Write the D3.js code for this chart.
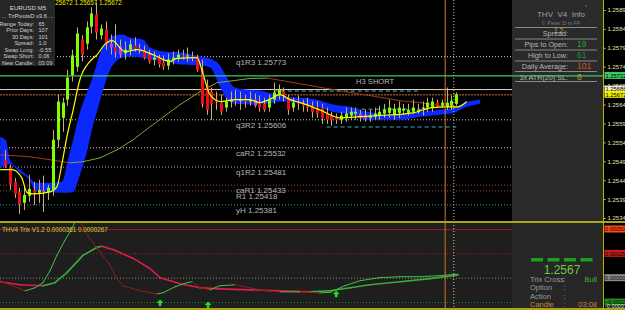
<!DOCTYPE html>
<html>
<head>
<meta charset="utf-8">
<script src="https://cdn.jsdelivr.net/npm/d3@7"></script>
<style>
html, body { margin: 0; padding: 0; background: #000; overflow: hidden; }
svg { display: block; font-family: "Liberation Sans", Arial, sans-serif; }
</style>
</head>
<body>
<div id="chart"></div>
<script>
// ---- candles (EURUSD M5), one entry per bar ----
const open = [1.25499,1.25478,1.25441,1.25414,1.25385,1.25404,1.25419,1.25412,1.25419,1.25414,
  1.25419,1.25552,1.2561,1.25658,1.25722,1.25745,1.25817,1.25806,1.25851,1.25883,
  1.25828,1.25843,1.25806,1.25796,1.25798,1.2578,1.2579,1.25801,1.25793,1.25788,
  1.25777,1.25764,1.25769,1.25756,1.25748,1.25764,1.25769,1.25775,1.25772,1.25772,
  1.25769,1.25737,1.25695,1.25679,1.25658,1.2565,1.25637,1.25653,1.25658,1.25655,
  1.25658,1.25653,1.25658,1.25647,1.25647,1.25637,1.25658,1.25671,1.25679,1.25663,
  1.25637,1.2565,1.25647,1.25642,1.25642,1.25637,1.25637,1.25621,1.25616,1.2561,
  1.25605,1.2561,1.25616,1.25621,1.25621,1.25616,1.2561,1.25613,1.25616,1.25621,
  1.25623,1.25618,1.25623,1.25629,1.25623,1.25626,1.25626,1.25637,1.25637,1.25637,
  1.2565,1.25642,1.25639,1.25642,1.25647];
const high = [1.25525,1.25486,1.25451,1.25425,1.2543,1.25459,1.25441,1.25446,1.25457,1.25433,
  1.25578,1.25671,1.25663,1.25737,1.2579,1.25849,1.25828,1.25865,1.25902,1.25915,
  1.25857,1.25865,1.2583,1.25857,1.25817,1.25812,1.25817,1.25823,1.25806,1.25801,
  1.2579,1.25785,1.25777,1.25775,1.2578,1.25785,1.2579,1.2579,1.25796,1.25785,
  1.25777,1.25764,1.25711,1.2569,1.25679,1.25671,1.25663,1.25679,1.25684,1.25679,
  1.25671,1.25679,1.25674,1.25669,1.25663,1.25671,1.25703,1.25698,1.2569,1.25671,
  1.25663,1.25669,1.25658,1.25663,1.25653,1.25653,1.25647,1.25637,1.25626,1.25621,
  1.25626,1.25637,1.25637,1.25637,1.25631,1.25631,1.25631,1.25637,1.25642,1.25647,
  1.25658,1.25647,1.25653,1.25647,1.25647,1.25658,1.25647,1.25653,1.25663,1.25663,
  1.25658,1.25658,1.2569,1.25669,1.25677];
const low = [1.25478,1.25419,1.25398,1.25356,1.25366,1.25388,1.2538,1.25385,1.25361,1.25393,
  1.25404,1.25531,1.25573,1.25642,1.25706,1.25732,1.25759,1.2579,1.25833,1.25817,
  1.25817,1.2579,1.25777,1.25769,1.25769,1.25764,1.25775,1.25785,1.2578,1.25764,
  1.25753,1.25748,1.25743,1.25737,1.25737,1.25751,1.25759,1.25764,1.25759,1.25759,
  1.25732,1.25637,1.25618,1.25605,1.25631,1.25618,1.25626,1.25637,1.25642,1.25631,
  1.25637,1.25642,1.25637,1.25626,1.25626,1.25626,1.25647,1.25658,1.25653,1.25618,
  1.25626,1.25631,1.25626,1.25626,1.2561,1.2561,1.25594,1.25594,1.25589,1.25594,
  1.25594,1.256,1.25605,1.25605,1.256,1.256,1.256,1.25605,1.25605,1.2561,
  1.2561,1.25605,1.2561,1.25618,1.25616,1.25621,1.25621,1.25616,1.25626,1.25626,
  1.25637,1.25637,1.25631,1.25631,1.25642];
const close = [1.25483,1.25435,1.25409,1.25382,1.25406,1.25422,1.25412,1.25419,1.25414,1.25425,
  1.25552,1.25653,1.2565,1.25716,1.25775,1.25833,1.25777,1.25849,1.25886,1.25836,
  1.25846,1.25804,1.25796,1.25785,1.25777,1.2579,1.25804,1.25793,1.2579,1.25769,
  1.25759,1.25769,1.25751,1.25745,1.25764,1.25769,1.25777,1.25772,1.25775,1.25769,
  1.25737,1.25647,1.25631,1.25647,1.25653,1.25626,1.25653,1.25658,1.25655,1.25658,
  1.25653,1.25658,1.25642,1.25637,1.25631,1.25658,1.25677,1.25684,1.25669,1.25631,
  1.2565,1.25647,1.25642,1.25637,1.25626,1.25621,1.2561,1.25605,1.25605,1.25605,
  1.25616,1.25621,1.25626,1.25626,1.2561,1.25608,1.25616,1.25621,1.25626,1.25631,
  1.25637,1.25634,1.25637,1.25634,1.25631,1.25637,1.25631,1.25636,1.2565,1.25653,
  1.25639,1.2565,1.2565,1.25655,1.25672];
// bars painted magenta by the template
const magentaBars = [8, 22, 24, 52, 74, 75];

// ---- overlays: [bar index, price] ----
const fastMA = [[-1,1.25473],[1.5,1.25473],[3.5,1.25451],[4.6,1.25412],[5.8,1.25409],[9.4,1.25414],
  [10.8,1.25427],[11.9,1.25491],[12.9,1.2556],[14.2,1.25631],[15.6,1.25711],[17.7,1.25759],
  [19.2,1.25777],[20.8,1.25804],[22.3,1.25814],[25,1.25785],[27.5,1.2579],[30.8,1.25777],
  [34.4,1.25759],[35.8,1.25767],[40,1.25769],[41.3,1.25724],[42.7,1.25671],[44.8,1.25653],
  [48,1.25658],[51,1.25658],[53,1.2565],[55,1.25658],[57.3,1.25671],[59.4,1.25658],
  [61.5,1.2565],[65.6,1.25631],[69.8,1.2561],[74,1.25613],[78,1.25616],[85,1.25623],
  [89,1.25637],[92,1.25639],[94.4,1.25639],[96.2,1.25653]];
const slowMA = [[-1,1.25512],[5.2,1.25507],[9.4,1.25499],[13.5,1.25491],[16.3,1.25494],
  [19.8,1.25504],[23.3,1.25525],[26.7,1.25552],[30.2,1.25586],[36.5,1.25645],[40.6,1.25679],
  [44.2,1.25703],[47.5,1.25708],[51,1.25714],[54.6,1.25715],[57.9,1.25708],[65,1.25692],
  [71.9,1.25677],[78.75,1.25663],[82.3,1.25655],[86.5,1.2565],[90.6,1.25642],[94.4,1.25637]];
// ribbon: [bar index, upper, lower]
const band = [[-1,1.2556,1.2548],[0.2,1.2555,1.25483],[1.04,1.25499,1.25488],[3.1,1.25473,1.25465],
  [5.2,1.25451,1.25443],[6.25,1.25438,1.25419],[9.4,1.25438,1.25414],[11.9,1.25441,1.25412],
  [13.1,1.25499,1.25412],[14.2,1.25552,1.25414],[15.6,1.25624,1.25459],[16.9,1.25671,1.25512],
  [18.1,1.25711,1.25578],[19.4,1.25764,1.25637],[20.6,1.25804,1.2569],[21.9,1.25822,1.25737],
  [23.1,1.25828,1.25759],[24.4,1.2583,1.25769],[26,1.25822,1.25772],[28.75,1.25817,1.25769],
  [30.2,1.25796,1.25764],[33.3,1.25785,1.25759],[36.5,1.25783,1.25751],[40.6,1.25772,1.25748],
  [42.7,1.25767,1.25743],[44.8,1.25748,1.25692],[46.25,1.25716,1.25658],[47.9,1.2569,1.25647],
  [51,1.25684,1.25645],[53.1,1.25682,1.25645],[57.9,1.25666,1.25653],[61.5,1.25663,1.25647],
  [65,1.25658,1.25639],[68.3,1.25645,1.25626],[71.9,1.25639,1.25618],[75.4,1.25626,1.25605],
  [82.3,1.25618,1.25605],[86.5,1.25626,1.25613],[90.6,1.25631,1.25618],[93.75,1.25637,1.25624],
  [95.8,1.2565,1.25637],[99,1.25658,1.25647]];

// ---- pivot levels ----
const levelNames = ['q1R3', 'q3R2', 'caR2', 'q1R2', 'caR1', 'R1', 'yH'];
const levelValues = [1.25773, 1.25606, 1.25532, 1.25481, 1.25433, 1.25418, 1.25381];
const h3Short = 1.25722;
const askLine = 1.25686;
const bidLine = 1.25672;
const fibLevels = [1.25682, 1.25634, 1.25587];
const fibFrom = [56, 67, 67];
const fibTo = [86, 88, 94];
const priceTicks = [1.25895,1.25845,1.25795,1.25745,1.25695,1.25645,1.25595,1.25545,1.25495,1.25445,1.25395,1.25345];
const sessionBars = [91.7, 93.5];

// ---- THV4 Trix: [bar index, value] ----
const trixFast = [[-1,-0.000031],[1.5,-0.000083],[4.2,-0.000135],[6.25,-0.000104],[7.9,-0.000052],
  [9.4,0.000073],[10.8,0.000229],[12.5,0.000385],[14,0.00051],[15,0.000615],[15.8,0.000573],
  [16.7,0.000469],[19.2,0.000302],[21.9,0.000125],[23.3,-0.00001],[24.6,-0.000083],[28.1,-0.000135],
  [31.7,-0.000167],[32.9,-0.000156],[35.4,-0.000094],[37.9,-0.000052],[39,-0.000042],[40.6,-0.000104],
  [42.7,-0.000125],[44.8,-0.000083],[47.9,-0.000073],[51,-0.000104],[54.2,-0.000135],[57.3,-0.000146],
  [61.5,-0.000146],[65.6,-0.000156],[67.7,-0.000151],[70.8,-0.000083],[74,-0.000031],[78.1,0],
  [82.3,0.00001],[86.5,0.00001],[90.6,0.000021],[94.4,0.000036]];
const trixSlow = [[-1,-0.000042],[3.1,-0.000073],[7.9,-0.000083],[10.4,-0.000052],[12.9,0.000052],
  [16.25,0.000229],[19.2,0.000313],[20.2,0.000323],[22.9,0.000281],[26.7,0.000198],[30.2,0.000094],
  [32.3,0],[36.5,-0.000063],[40.6,-0.000104],[44.8,-0.000115],[51,-0.000125],[57.3,-0.000135],
  [63.5,-0.000146],[67.7,-0.000135],[71.9,-0.000104],[76,-0.000073],[82.3,-0.000042],
  [88.5,-0.00001],[94.4,0.000027]];
const trixLevels = [0.0005, 0.00025, 0, -0.00025];
const crossUp = [[32.3,-0.00026],[42.3,-0.00028],[69,-0.00017]];

// ---- text panels ----
const tzLabels = ['Range Today:', 'Prior Days:', '30 Days:', 'Spread:', 'Swap Long:', 'Swap Short:', 'New Candle:'];
const tzValues = ['65', '107', '101', '1.0', '-0.55', '0.06', '03:09'];
const thvLabels = ['Spread:', 'Pips to Open:', 'High to Low:', 'Daily Average:', '3x ATR(20) SL:'];
const thvValues = ['1.2', '19', '61', '101', '8'];
const trixRows = ['Trix Cross', 'Option', 'Action', 'Candle'];
const trixRowValues = ['Bull', '', '', '03:08'];

const W = 625, H = 310, axisX = 603.5;

const svg = d3.select('#chart').append('svg')
    .attr('width', W)
    .attr('height', H);

const x = d3.scaleLinear().domain([0, 94]).range([5, 456.2]);
const y = d3.scaleLinear().domain([1.25345, 1.25895]).range([218, 10]);
const yT = d3.scaleLinear().domain([-0.00025, 0.0005]).range([302, 229]);

const defs = svg.append('defs');
defs.append('clipPath').attr('id', 'clipMain')
    .append('rect').attr('x', 0).attr('y', 0).attr('width', axisX).attr('height', 221);
defs.append('clipPath').attr('id', 'clipSub')
    .append('rect').attr('x', 0).attr('y', 223).attr('width', axisX).attr('height', 85);

svg.append('rect').attr('width', W).attr('height', H).attr('fill', '#000');
svg.append('rect').attr('x', 0).attr('y', 223).attr('width', axisX).attr('height', 85).attr('fill', '#1e1e1e');

// ================= main pane =================
const mainG = svg.append('g').attr('clip-path', 'url(#clipMain)');

const levelColor = {q1R3: '#cfcfcf', q3R2: '#cfcfcf', caR2: '#e8c8d8', q1R2: '#a8a8e8',
                    caR1: '#b03434', R1: '#8c5a28', yH: '#3ca5a5'};

mainG.selectAll('line.level')
    .data(levelNames)
    .join('line')
    .classed('level', true)
    .attr('x1', 0).attr('x2', axisX)
    .attr('y1', (d, i) => y(levelValues[i]) + 0.5)
    .attr('y2', (d, i) => y(levelValues[i]) + 0.5)
    .attr('stroke', d => levelColor[d])
    .attr('stroke-dasharray', '1,2');

mainG.selectAll('text.level')
    .data(levelNames)
    .join('text')
    .classed('level', true)
    .attr('x', 236)
    .attr('y', (d, i) => y(levelValues[i]) + 8.5)
    .attr('fill', '#b8b8b8')
    .attr('font-size', 8)
    .text((d, i) => `${d}  ${levelValues[i].toFixed(5)}`);

// cyan dashed retracement lines
mainG.selectAll('line.fib')
    .data(fibLevels)
    .join('line')
    .attr('x1', (d, i) => x(fibFrom[i])).attr('x2', (d, i) => x(fibTo[i]))
    .attr('y1', d => y(d) + 0.5).attr('y2', d => y(d) + 0.5)
    .attr('stroke', '#3cb4c8')
    .attr('stroke-dasharray', '4,3');

// ask / bid lines
mainG.append('line')
    .attr('x1', 0).attr('x2', axisX)
    .attr('y1', y(askLine) + 0.5).attr('y2', y(askLine) + 0.5)
    .attr('stroke', '#e8d2b8');
mainG.append('line')
    .attr('x1', 0).attr('x2', axisX)
    .attr('y1', y(bidLine) + 0.5).attr('y2', y(bidLine) + 0.5)
    .attr('stroke', '#d2702a')
    .attr('stroke-dasharray', '2,1');

// blue ribbon
mainG.append('path')
    .datum(band)
    .attr('d', d3.area()
        .x(d => x(d[0]))
        .y0(d => y(d[2]))
        .y1(d => y(d[1]))
        .curve(d3.curveMonotoneX))
    .attr('fill', '#0a28ff');

// trend-coloured line: green when rising, red when falling
function trendLine(g, pts, sy, up, down, w){
    g.append('g').selectAll('line')
        .data(d3.pairs(pts))
        .join('line')
        .attr('x1', d => x(d[0][0])).attr('y1', d => sy(d[0][1]))
        .attr('x2', d => x(d[1][0])).attr('y2', d => sy(d[1][1]))
        .attr('stroke', d => d[1][1] >= d[0][1] ? up : down)
        .attr('stroke-width', w)
        .attr('stroke-linecap', 'round');
}
trendLine(mainG, slowMA, y, '#7aa838', '#a03a24', 1);

// candles
const bars = d3.range(open.length);
const barColor = i => {
    if (magentaBars.includes(i)) return '#cc3ccc';
    if (Math.abs(close[i] - open[i]) < 0.00002) return '#e8e8e8';
    return close[i] > open[i] ? '#7cff00' : '#ee1010';
};
mainG.append('g').selectAll('line')
    .data(bars)
    .join('line')
    .attr('x1', i => Math.round(x(i)) + 0.5).attr('x2', i => Math.round(x(i)) + 0.5)
    .attr('y1', i => y(high[i])).attr('y2', i => y(low[i]))
    .attr('stroke', '#c8b070');
mainG.append('g').selectAll('rect')
    .data(bars)
    .join('rect')
    .attr('x', i => Math.round(x(i)) - 1)
    .attr('width', 3)
    .attr('y', i => y(Math.max(open[i], close[i])))
    .attr('height', i => Math.max(1, Math.abs(y(open[i]) - y(close[i]))))
    .attr('fill', barColor);

mainG.append('path')
    .datum(fastMA)
    .attr('d', d3.line().x(d => x(d[0])).y(d => y(d[1])).curve(d3.curveMonotoneX))
    .attr('fill', 'none')
    .attr('stroke', '#ffff00')
    .attr('stroke-width', 1.2);

mainG.append('text')
    .attr('x', 356).attr('y', y(h3Short) + 9)
    .attr('fill', '#b8b8b8').attr('font-size', 7.6)
    .text('H3 SHORT');

// top-left TzPivots box
svg.append('text')
    .attr('x', 50).attr('y', 5)
    .attr('fill', '#e8e800').attr('font-size', 6.3)
    .text('1.25672 1.25657 1.25672');
const tz = svg.append('g');
tz.append('rect').attr('width', 55).attr('height', 66).attr('fill', '#262626');
tz.append('text').attr('x', 28).attr('y', 9.5).attr('text-anchor', 'middle')
    .attr('fill', '#d8d8d8').attr('font-size', 6.2).text('EURUSD    M5');
tz.append('text').attr('x', 27.5).attr('y', 17.5).attr('text-anchor', 'middle')
    .attr('fill', '#d8d8d8').attr('font-size', 5.8).text('... TzPivotsD v3.6 ...');
tz.selectAll('text.lab')
    .data(tzLabels)
    .join('text')
    .attr('x', 34).attr('y', (d, i) => 25.5 + i * 6.5)
    .attr('text-anchor', 'end')
    .attr('fill', '#d0d0d0').attr('font-size', 5.6)
    .text(d => d);
tz.selectAll('text.val')
    .data(tzValues)
    .join('text')
    .attr('x', 38.5).attr('y', (d, i) => 25.5 + i * 6.5)
    .attr('fill', '#d0d0d0').attr('font-size', 5.6)
    .text(d => d);

// right info panel (THV V4 Info)
const info = svg.append('g');
info.append('rect').attr('x', 512).attr('y', 0).attr('width', 91).attr('height', 221).attr('fill', '#2a2a2a');
info.append('text').attr('x', 561).attr('y', 17).attr('text-anchor', 'middle')
    .attr('fill', '#a0a0a0').attr('font-size', 8).attr('xml:space', 'preserve').text('THV  V4  Info');
info.append('text').attr('x', 561).attr('y', 24.5).attr('text-anchor', 'middle')
    .attr('fill', '#7a7a7a').attr('font-size', 5.6).text('© Peter D in FF');
info.append('text').attr('x', 585).attr('y', 9).attr('fill', '#8a8a8a').attr('font-size', 6).text('°');
info.selectAll('line.sep')
    .data([27, 38.5, 49.5, 60.5, 71, 81])
    .join('line')
    .attr('x1', 515).attr('x2', 597)
    .attr('y1', d => d + 0.5).attr('y2', d => d + 0.5)
    .attr('stroke', '#8a8a8a');
info.selectAll('text.lab')
    .data(thvLabels)
    .join('text')
    .attr('x', 568).attr('y', (d, i) => 36 + i * 11)
    .attr('text-anchor', 'end')
    .attr('fill', '#b8b8b8').attr('font-size', 7.2)
    .text(d => d);
const thvColor = ['#e6a03c', '#2e9e2e', '#2e8b2e', '#d2552d', '#d29632'];
info.selectAll('text.val')
    .data(thvValues)
    .join('text')
    .attr('x', (d, i) => i === 0 ? 554 : 577)
    .attr('y', (d, i) => i === 0 ? 33 : 36 + i * 11)
    .attr('fill', (d, i) => thvColor[i])
    .attr('font-size', (d, i) => i === 0 ? 6.5 : 8.5)
    .text(d => d);

// H3 SHORT level runs over the panel
svg.append('line')
    .attr('x1', 0).attr('x2', axisX)
    .attr('y1', y(h3Short) + 0.5).attr('y2', y(h3Short) + 0.5)
    .attr('stroke', '#3cc864').attr('stroke-width', 1.2);

// price axis
const yAxis = svg.append('g')
    .attr('transform', `translate(${axisX},0)`)
    .call(d3.axisRight(y).tickValues(priceTicks).tickSize(2).tickFormat(d3.format('.5f')));
yAxis.select('.domain').remove();
yAxis.selectAll('line').attr('stroke', '#d8d800');
yAxis.selectAll('text').attr('x', 4).attr('fill', '#e0e0a8').attr('font-size', 6)
    .attr('font-family', '"Liberation Sans", Arial, sans-serif');

const priceBoxes = [[h3Short, '#3cc864'], [askLine, '#f0ead2'], [bidLine, '#f0f000']];
svg.append('g').selectAll('g')
    .data(priceBoxes)
    .join('g')
    .attr('transform', d => `translate(${axisX + 1},${y(d[0])})`)
    .call(g => g.append('rect').attr('y', -3.5).attr('width', 21).attr('height', 7).attr('fill', d => d[1]))
    .call(g => g.append('text').attr('x', 1).attr('y', 2.3).attr('font-size', 5.8).attr('fill', '#000')
        .text(d => d[0].toFixed(5)));

// ================= Trix pane =================
const subG = svg.append('g').attr('clip-path', 'url(#clipSub)');
const trixLevelColor = ['#9a1a1a', '#a02020', '#909090', '#208c20'];
subG.selectAll('line.tl')
    .data(trixLevels)
    .join('line')
    .attr('x1', 0).attr('x2', axisX)
    .attr('y1', d => yT(d) + 0.5).attr('y2', d => yT(d) + 0.5)
    .attr('stroke', (d, i) => trixLevelColor[i])
    .attr('stroke-dasharray', (d, i) => i === 0 ? null : '1,2');

trendLine(subG, trixSlow, yT, '#3caa3c', '#dc1e4b', 1.6);
trendLine(subG, trixFast, yT, '#46c046', '#901c1c', 1);

subG.selectAll('path.arrow')
    .data(crossUp)
    .join('path')
    .attr('transform', d => `translate(${x(d[0])},${yT(d[1])})`)
    .attr('d', 'M0,-3.5L3.5,0L1.3,0L1.3,3L-1.3,3L-1.3,0L-3.5,0Z')
    .attr('fill', '#20e020');

svg.append('text')
    .attr('x', 2).attr('y', 232)
    .attr('fill', '#d2d23c').attr('font-size', 6.3)
    .text('THV4 Trix V1.2 0.0000361 0.0000267');

// Trix info panel
const tp = svg.append('g');
tp.append('rect').attr('x', 512).attr('y', 223).attr('width', 91).attr('height', 85).attr('fill', '#262626');
tp.selectAll('rect.dash')
    .data(d3.range(4))
    .join('rect')
    .attr('x', d => 531 + d * 16.5).attr('y', 258)
    .attr('width', 12).attr('height', 3.5)
    .attr('fill', '#1e9e1e');
tp.append('text').attr('x', 562).attr('y', 274).attr('text-anchor', 'middle')
    .attr('fill', '#6acd3c').attr('font-size', 12).text(close[close.length - 1].toFixed(4));
tp.selectAll('text.lab')
    .data(trixRows)
    .join('text')
    .attr('x', 530).attr('y', (d, i) => 282 + i * 8.3)
    .attr('fill', (d, i) => i === 3 ? '#c8882a' : '#9a9a9a')
    .attr('font-size', 7.5)
    .text(d => d);
tp.selectAll('text.colon')
    .data(trixRows)
    .join('text')
    .attr('x', 563.5).attr('y', (d, i) => 282 + i * 8.3)
    .attr('fill', (d, i) => i === 3 ? '#c8882a' : '#9a9a9a')
    .attr('font-size', 7.5)
    .text(':');
tp.selectAll('text.val')
    .data(trixRowValues)
    .join('text')
    .attr('x', 597).attr('y', (d, i) => 282 + i * 8.3)
    .attr('text-anchor', 'end')
    .attr('fill', (d, i) => i === 3 ? '#c8882a' : '#3cb43c')
    .attr('font-size', 7.5)
    .text(d => d);

// session markers through both panes
svg.append('line')
    .attr('x1', x(sessionBars[0])).attr('x2', x(sessionBars[0]))
    .attr('y1', 0).attr('y2', 308)
    .attr('stroke', '#d2782d');
svg.append('line')
    .attr('x1', x(sessionBars[1])).attr('x2', x(sessionBars[1]))
    .attr('y1', 0).attr('y2', 308)
    .attr('stroke', '#e6be82')
    .attr('stroke-dasharray', '1,2');

// pane separators
svg.append('rect').attr('x', 0).attr('y', 221).attr('width', W).attr('height', 2).attr('fill', '#a8a820');
svg.append('rect').attr('x', 0).attr('y', 308).attr('width', W).attr('height', 2).attr('fill', '#a8a820');
svg.append('line').attr('x1', axisX).attr('x2', axisX).attr('y1', 0).attr('y2', 310).attr('stroke', '#b4b400');

// trix axis boxes
const trixBoxColor = ['#ff4a14', '#c81e1e', '#8c8c8c', '#1e8c1e'];
svg.append('g').selectAll('g')
    .data(trixLevels)
    .join('g')
    .attr('transform', d => `translate(${axisX + 1},${yT(d)})`)
    .call(g => g.append('rect').attr('y', -3.5).attr('width', 21).attr('height', 7)
        .attr('fill', (d, i) => trixBoxColor[i]))
    .call(g => g.append('text').attr('x', 0.5).attr('y', 2.3).attr('font-size', 5.6).attr('fill', '#000')
        .text(d => d3.format('.5f')(d)));
svg.append('text')
    .attr('x', axisX + 1.5).attr('y', 307.5)
    .attr('fill', '#e0e0e0').attr('font-size', 5.6)
    .text('-0.00033');
</script>
</body>
</html>
